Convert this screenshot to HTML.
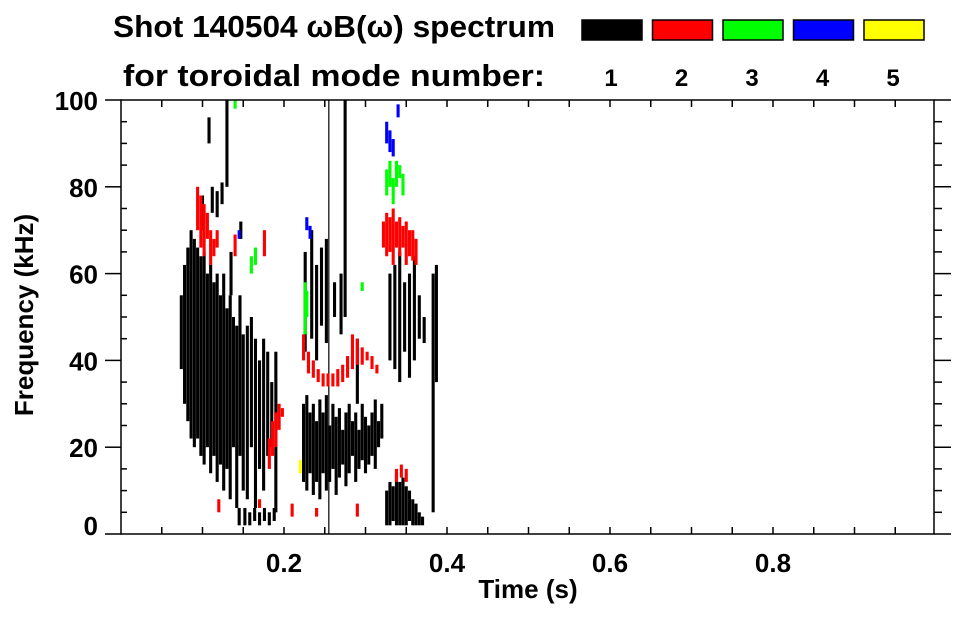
<!DOCTYPE html>
<html><head><meta charset="utf-8">
<style>
html,body{margin:0;padding:0;background:#fff;}
body{width:963px;height:615px;overflow:hidden;font-family:"Liberation Sans",sans-serif;}
svg text{font-family:"Liberation Sans",sans-serif;font-weight:bold;fill:#000;}
</style></head>
<body>
<svg id="chart" width="963" height="615" viewBox="0 0 963 615" xmlns="http://www.w3.org/2000/svg">
<text x="113" y="37" font-size="31" textLength="442" lengthAdjust="spacingAndGlyphs">Shot 140504 ωB(ω) spectrum</text>
<text x="123" y="86" font-size="31" textLength="422" lengthAdjust="spacingAndGlyphs">for toroidal mode number:</text>
<g id="legend"></g>
<g id="marks"></g>
<g id="axes"></g>
<text x="528" y="598" font-size="26" text-anchor="middle">Time (s)</text>
<text x="0" y="0" font-size="26" text-anchor="middle" transform="translate(33,315) rotate(-90)">Frequency (kHz)</text>
</svg>
<script>
// Mode 1 (black) streaks: time (s), low/high frequency (kHz)
const m1T  = [0.074,0.078,0.082,0.086,0.090,0.094,0.098,0.102,0.106,0.110,0.114,0.118,0.122,0.126,0.130,0.134,0.138,0.142,0.146,0.150,0.155,0.160,0.165,0.170,0.175,0.180,0.185,0.190,
  0.100,0.112,0.118,0.124,0.108,0.130,0.147,0.135,
  0.145,0.152,0.158,0.164,0.170,0.176,0.182,0.188,
  0.224,0.228,0.232,0.236,0.240,0.244,0.248,0.252,0.256,0.260,0.264,0.268,0.272,0.276,0.280,0.284,0.288,0.292,0.296,0.300,0.304,0.308,0.312,0.316,0.320,
  0.226,0.234,0.240,0.246,0.252,0.262,0.270,0.255,0.275,0.290,
  0.326,0.330,0.334,0.338,0.342,0.346,0.350,0.354,0.358,0.362,0.366,0.370,
  0.330,0.336,0.342,0.348,0.354,0.360,0.366,0.372,0.383,0.387];
const m1Lo = [38,30,26,22,20,22,18,16,20,14,18,12,16,10,15,8,20,6,18,10,8,20,6,15,10,18,20,5,
  70,74,73,76,90,80,68,55,
  2,2,2,3,2,3,2,3,
  12,10,14,9,12,8,14,10,12,15,9,13,16,11,14,18,12,15,17,14,16,18,15,20,22,
  42,45,40,48,44,50,46,0,50,30,
  2,2,3,2,2,2,2,3,2,2,2,2,
  40,38,35,42,36,40,45,44,5,35];
const m1Hi = [55,62,66,70,68,66,64,65,60,62,58,60,55,60,52,55,50,48,55,46,48,50,45,40,45,42,35,42,
  78,80,79,81,96,100,72,65,
  6,6,5,6,5,6,5,6,
  30,32,28,30,26,31,28,32,25,30,27,29,24,28,30,26,28,24,30,27,25,28,31,26,30,
  65,70,62,66,68,58,60,100,100,45,
  10,12,11,14,12,13,11,10,8,7,5,4,
  60,62,65,58,60,64,55,50,60,62];

// Mode 2 (red)
const m2T  = [0.224,0.230,0.236,0.242,0.248,0.254,0.260,0.266,0.272,0.278,0.284,0.290,0.296,0.302,0.308,0.314,
  0.322,0.326,0.330,0.334,0.338,0.342,0.346,0.350,0.354,0.358,0.362,
  0.094,0.098,0.102,0.106,0.110,0.114,0.118,0.140,0.176,
  0.182,0.186,0.190,0.194,0.198,0.338,0.344,0.350,0.210,0.240,0.290,0.120,0.170];
const m2Lo = [40,37,36,35,34,34,34,34,35,36,38,39,39,40,38,37,
  66,64,65,62,66,64,66,62,64,63,62,
  70,66,64,68,62,64,66,64,64,
  15,18,20,24,27,12,13,12,4,4,4,5,6];
const m2Hi = [46,42,40,38,37,37,37,38,39,41,46,45,43,42,41,39,
  72,74,73,75,72,73,71,72,70,70,68,
  80,78,76,74,70,68,70,69,70,
  22,26,28,30,29,15,16,15,7,6,7,8,8];

// Mode 3 (green)
const m3T  = [0.326,0.330,0.334,0.338,0.342,0.346,0.226,0.228,0.160,0.165,0.296,0.140];
const m3Lo = [78,80,76,80,82,78,46,50,60,62,56,98];
const m3Hi = [84,86,82,86,85,83,58,56,64,66,58,100];

// Mode 4 (blue)
const m4T  = [0.326,0.330,0.334,0.228,0.232,0.340,0.145];
const m4Lo = [90,88,87,70,68,96,68];
const m4Hi = [95,93,91,73,71,99,70];

// Mode 5 (yellow)
const m5T  = [0.220];
const m5Lo = [14];
const m5Hi = [17];

const modeLabels = ["1","2","3","4","5"];
const modeColors = ["#000000","#ff0000","#00ff00","#0000ff","#ffff00"];
const xTicks = [0.2,0.4,0.6,0.8];
const yTicks = [0,20,40,60,80,100];

const X0=121, X1=934, Y0=534, Y1=100;
const TMIN=0, TMAX=(X1-X0)/815, FMIN=0, FMAX=100;
const xs = t => X0 + (t-TMIN)/(TMAX-TMIN)*(X1-X0);
const ys = f => Y0 - (f-FMIN)/(FMAX-FMIN)*(Y0-Y1);
const NS="http://www.w3.org/2000/svg";
function mk(tag, attrs, parent){const e=document.createElementNS(NS,tag);for(const k in attrs)e.setAttribute(k,attrs[k]);parent.appendChild(e);return e;}

const marks=document.getElementById('marks');
const series=[[m1T,m1Lo,m1Hi],[m2T,m2Lo,m2Hi],[m3T,m3Lo,m3Hi],[m4T,m4Lo,m4Hi],[m5T,m5Lo,m5Hi]];
series.forEach((s,mi)=>{
  const [T,L,H]=s;
  for(let i=0;i<T.length;i++){
    const span=H[i]-L[i];
    const w = span>60 ? 1.2 : 3.1;
    const r=mk('rect',{x:xs(T[i])-w/2,y:ys(H[i]),width:w,height:Math.max(1.5,ys(L[i])-ys(H[i])),fill:modeColors[mi]},marks);
    
    
  }
});

const leg=document.getElementById('legend');
modeLabels.forEach((lab,i)=>{
  const bx=582+i*70.5;
  const r=mk('rect',{x:bx,y:20,width:60,height:20,fill:modeColors[i],stroke:'#000','stroke-width':1.5},leg);
  
  
  const t=mk('text',{x:bx+29,y:86,'font-size':24,'text-anchor':'middle'},leg);
  t.textContent=lab;
  
  
});

const ax=document.getElementById('axes');
mk('rect',{x:X0,y:Y1,width:X1-X0,height:Y0-Y1,fill:'none',stroke:'#000','stroke-width':1.5},ax);
for(let f=0;f<=100;f+=5){
  const y=ys(f), major=f%20===0;
  mk('line',{x1:major?105:X0,x2:major?X0:X0+6,y1:y,y2:y,stroke:'#000','stroke-width':1.5},ax);
  mk('line',{x1:X1,x2:major?X1+17:X1+8,y1:y,y2:y,stroke:'#000','stroke-width':1.5},ax);
}
yTicks.forEach(v=>{
  const t=mk('text',{x:98,y:(v===0?ys(v)+1:ys(v)+10),'font-size':26,'text-anchor':'end'},ax);
  t.textContent=String(v);
  
  
});
for(let k=1;k<20;k++){
  const x=xs(k*0.05);
  if(x>X1-1)break;
  mk('line',{x1:x,x2:x,y1:Y0,y2:Y0-7,stroke:'#000','stroke-width':1.5},ax);
  mk('line',{x1:x,x2:x,y1:Y1,y2:Y1+7,stroke:'#000','stroke-width':1.5},ax);
}
xTicks.forEach(v=>{
  const t=mk('text',{x:xs(v),y:572,'font-size':26,'text-anchor':'middle'},ax);
  t.textContent=v.toFixed(1);
  
  
});
</script>
</body></html>
